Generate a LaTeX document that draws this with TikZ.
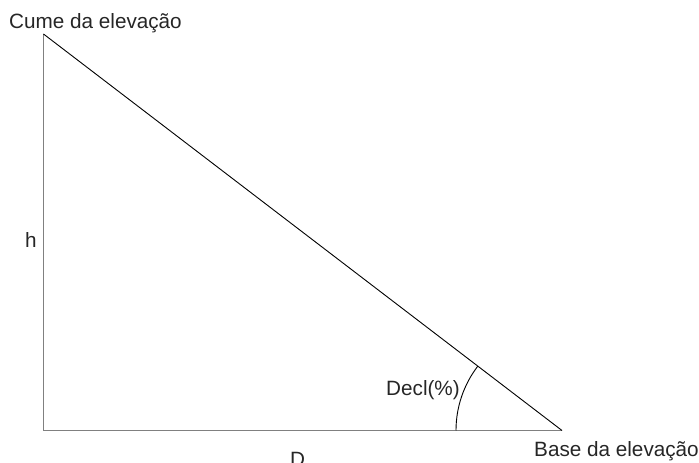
\documentclass[tikz,border=0pt]{standalone}
\usepackage{fontspec}
\setmainfont{Liberation Sans}
\begin{document}
\begin{tikzpicture}[x=1pt,y=1pt,
  lbl/.style={inner sep=0pt,anchor=base west,font=\fontsize{20.7}{24}\selectfont,text=black!85},
  leg/.style={draw=black!50,line width=1.5pt},
  hyp/.style={draw=black,line width=0.9pt}]
\useasboundingbox (0,0) rectangle (699,463);
\coordinate (A) at (43.5,429);
\coordinate (B) at (43.5,32.5);
\coordinate (C) at (562,32.5);
\draw[leg] (A) -- (B) -- (C);
\draw[hyp] (C) -- (A);
\draw[hyp] (C) ++(180:106) arc[start angle=180,end angle=142.6,radius=106];
\node[lbl] (cume) at (9,434) {Cume da elevação};
\node[lbl] (h) at (25,215.5) {h};
\node[lbl] (d) at (290,-3.3) {D};
\node[lbl] (decl) at (386,67) {Decl(\%)};
\node[lbl] (base) at (534,6.3) {Base da elevação};
\end{tikzpicture}
\end{document}
